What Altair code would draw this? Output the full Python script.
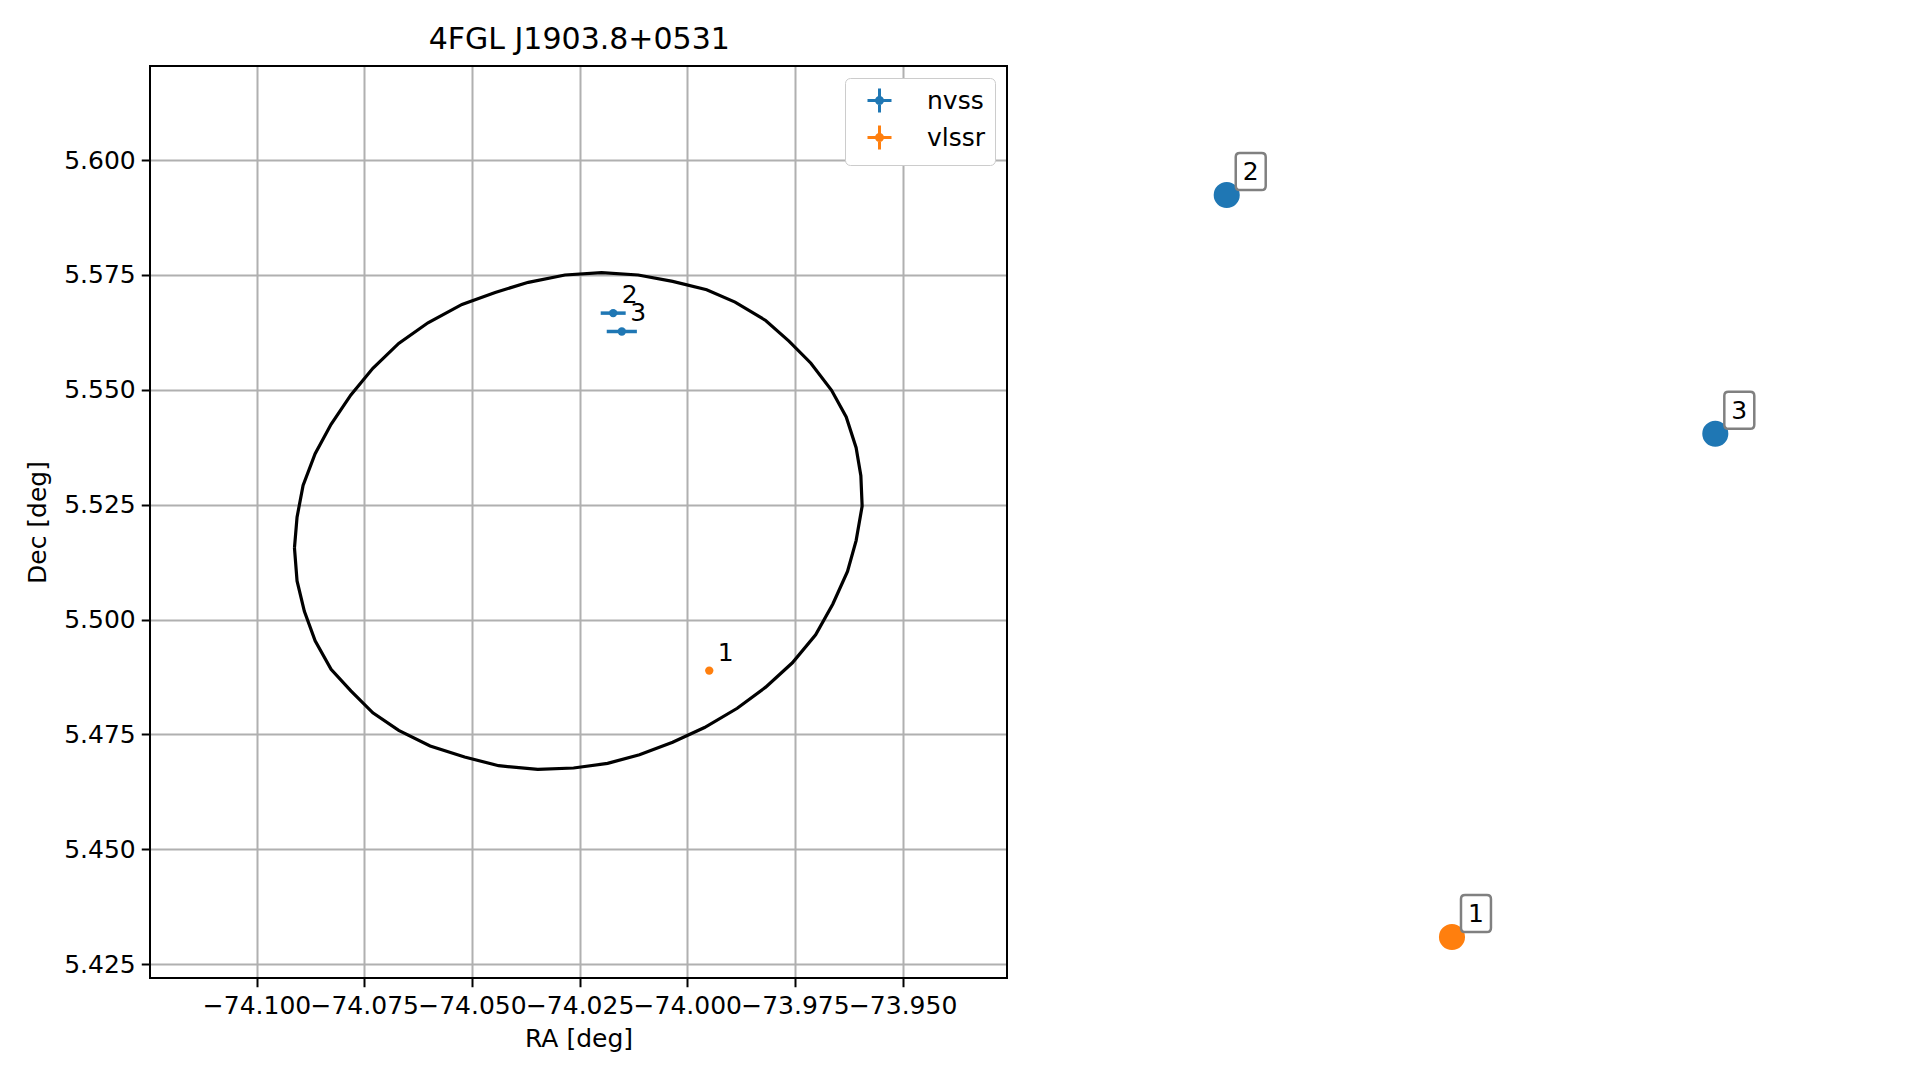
import altair as alt
import pandas as pd

# ---------------- data ----------------
# 4FGL error ellipse outline (RA, Dec in degrees)
ell_ra = [-74.0912, -74.0906, -74.0892, -74.0864, -74.0827, -74.0781, -74.0730, -74.0670, -74.0602, -74.0523,
          -74.0446, -74.0369, -74.0284, -74.0199, -74.0114, -74.0034, -73.9955, -73.9889, -73.9818, -73.9764,
          -73.9713, -73.9665, -73.9631, -73.9608, -73.9597, -73.9594, -73.9608, -73.9628, -73.9662, -73.9702,
          -73.9756, -73.9818, -73.9884, -73.9960, -74.0034, -74.0111, -74.0185, -74.0264, -74.0347, -74.0438,
          -74.0517, -74.0597, -74.0670, -74.0730, -74.0781, -74.0827, -74.0864, -74.0889, -74.0906, -74.0912]
ell_dec = [5.5156, 5.5223, 5.5292, 5.5361, 5.5425, 5.5489, 5.5547, 5.5601, 5.5646, 5.5686,
           5.5712, 5.5734, 5.5750, 5.5755, 5.5750, 5.5736, 5.5718, 5.5691, 5.5651, 5.5606,
           5.5558, 5.5499, 5.5441, 5.5374, 5.5313, 5.5247, 5.5172, 5.5105, 5.5034, 5.4967,
           5.4906, 5.4853, 5.4807, 5.4765, 5.4733, 5.4706, 5.4687, 5.4677, 5.4674, 5.4682,
           5.4701, 5.4725, 5.4759, 5.4797, 5.4845, 5.4892, 5.4954, 5.5018, 5.5084, 5.5156]

# radio counterparts
src_id = ["2", "3", "1"]
src_cat = ["nvss", "nvss", "vlssr"]
src_ra = [-74.0172, -74.0152, -73.9949]
src_dec = [5.5667, 5.5627, 5.4889]
src_ra_err = [0.0029, 0.0035, 0.0]
src_dec_err = [0.0007, 0.0007, 0.0]

# right-hand panel positions (panel units 0..1)
panel_x = [0.2185, 0.7933, 0.4835]
panel_y = [0.8586, 0.5968, 0.0450]

categories = ["nvss", "vlssr"]
colors = ["#1f77b4", "#ff7f0e"]

x_ticks = [-74.100, -74.075, -74.050, -74.025, -74.000, -73.975, -73.950]
y_ticks = [5.425, 5.450, 5.475, 5.500, 5.525, 5.550, 5.575, 5.600]
x_domain = [-74.12474, -73.92577]
y_domain = [5.42200, 5.62048]

# ---------------- tables ----------------
ell = pd.DataFrame({"i": list(range(len(ell_ra))), "ra": ell_ra, "dec": ell_dec})
src = pd.DataFrame({
    "id": src_id, "cat": src_cat, "ra": src_ra, "dec": src_dec,
    "ra_lo": [r - e for r, e in zip(src_ra, src_ra_err)],
    "ra_hi": [r + e for r, e in zip(src_ra, src_ra_err)],
    "dec_lo": [d - e for d, e in zip(src_dec, src_dec_err)],
    "dec_hi": [d + e for d, e in zip(src_dec, src_dec_err)],
})
panel = pd.DataFrame({"id": src_id, "cat": src_cat, "px": panel_x, "py": panel_y})

W, H = 857, 912
FONT = "DejaVu Sans"

xscale = alt.Scale(domain=x_domain, nice=False, zero=False)
yscale = alt.Scale(domain=y_domain, nice=False, zero=False)
cscale = alt.Scale(domain=categories, range=colors)

xaxis = alt.Axis(values=x_ticks, format=".3f", title="RA [deg]", grid=True, gridColor="#b0b0b0",
                 gridWidth=2, domain=False, tickColor="black", tickWidth=2, tickSize=8.75,
                 labelFont=FONT, labelFontSize=25, labelColor="black", labelPadding=7,
                 labelOverlap=False, labelFlush=False, titleFont=FONT, titleFontSize=25,
                 titleFontWeight="normal", titleColor="black", titlePadding=8)
yaxis = alt.Axis(values=y_ticks, format=".3f", title="Dec [deg]", grid=True, gridColor="#b0b0b0",
                 gridWidth=2, domain=False, tickColor="black", tickWidth=2, tickSize=8.75,
                 labelFont=FONT, labelFontSize=25, labelColor="black", labelPadding=6,
                 labelOverlap=False, labelFlush=False, titleFont=FONT, titleFontSize=25,
                 titleFontWeight="normal", titleColor="black", titlePadding=13)


def X(f):
    return alt.X(f, type="quantitative", scale=xscale, axis=xaxis)


def Y(f):
    return alt.Y(f, type="quantitative", scale=yscale, axis=yaxis)


cross_path = "M-1,0H1M0,-1V1M-0.25,0A0.25,0.25 0 1,0 0.25,0A0.25,0.25 0 1,0 -0.25,0Z"

legend = alt.Legend(title=None, orient="top-right", offset=12, symbolType=cross_path,
                    symbolSize=576, symbolStrokeWidth=3, symbolOpacity=1,
                    labelFont=FONT, labelFontSize=25,
                    labelColor="black", fillColor="white", strokeColor="#cccccc",
                    cornerRadius=5, padding=9, symbolOffset=12, labelOffset=34,
                    rowPadding=0)
COLOR = alt.Color("cat:N", scale=cscale, legend=legend)

legend_layer = alt.Chart(src).mark_point(filled=False, size=70, shape="circle", opacity=0).encode(
    x=X("ra"), y=Y("dec"), color=COLOR)

ellipse = alt.Chart(ell).mark_line(color="black", strokeWidth=3.2).encode(
    x=X("ra"), y=Y("dec"), order="i:Q")

xerr = alt.Chart(src).mark_rule(strokeWidth=3.5).encode(
    x=X("ra_lo"), x2="ra_hi", y=Y("dec"), color=COLOR)
yerr = alt.Chart(src).mark_rule(strokeWidth=3.5).encode(
    x=X("ra"), y=Y("dec_lo"), y2="dec_hi", color=COLOR)

points = alt.Chart(src).mark_point(filled=True, size=70, shape="circle", opacity=1).encode(
    x=X("ra"), y=Y("dec"), color=COLOR)

labels = alt.Chart(src).mark_text(dx=16.5, dy=-18, fontSize=25, font=FONT, color="black",
                                  align="center", baseline="middle").encode(
    x=X("ra"), y=Y("dec"), text="id:N")

frame = alt.Chart(src).mark_rect(filled=False, stroke="black", strokeWidth=2).encode(
    x=alt.value(0), x2=alt.value(W), y=alt.value(0), y2=alt.value(H))

left = alt.layer(legend_layer, ellipse, xerr, yerr, points, labels, frame).properties(width=W, height=H)

# ---------------- right panel ----------------
px = alt.X("px:Q", scale=alt.Scale(domain=[0, 1], nice=False, zero=False), axis=None)
py = alt.Y("py:Q", scale=alt.Scale(domain=[0, 1], nice=False, zero=False), axis=None)

box_path = ("M-0.59,-1H0.59Q0.81,-1 0.81,-0.78V0.78Q0.81,1 0.59,1H-0.59"
            "Q-0.81,1 -0.81,0.78V-0.78Q-0.81,-1 -0.59,-1Z")

dots = alt.Chart(panel).mark_circle(size=680, opacity=1).encode(
    x=px, y=py, color=alt.Color("cat:N", scale=cscale, legend=None))
boxes = alt.Chart(panel).mark_point(shape=box_path, size=1369, filled=True, fill="white",
                                    stroke="#808080", strokeWidth=2.5, opacity=1,
                                    xOffset=24, yOffset=-23.5).encode(x=px, y=py)
btext = alt.Chart(panel).mark_text(dx=24, dy=-23, fontSize=25, font=FONT, color="black",
                                   align="center", baseline="middle").encode(
    x=px, y=py, text="id:N")

right = alt.layer(dots, boxes, btext).properties(width=850, height=H)

chart = alt.hconcat(left, right, spacing=33).resolve_scale(
    x="independent", y="independent", color="independent").resolve_legend(
    color="independent").properties(
    title=alt.TitleParams("4FGL J1903.8+0531", anchor="start", dx=403, fontSize=30,
                          fontWeight="normal", font=FONT, color="black", offset=10),
    padding={"left": 17, "top": 17, "right": 5, "bottom": 5},
).configure(font=FONT).configure_view(stroke="transparent", strokeWidth=0)

chart.save("out.html", embed_options={"renderer": "svg", "actions": False})
